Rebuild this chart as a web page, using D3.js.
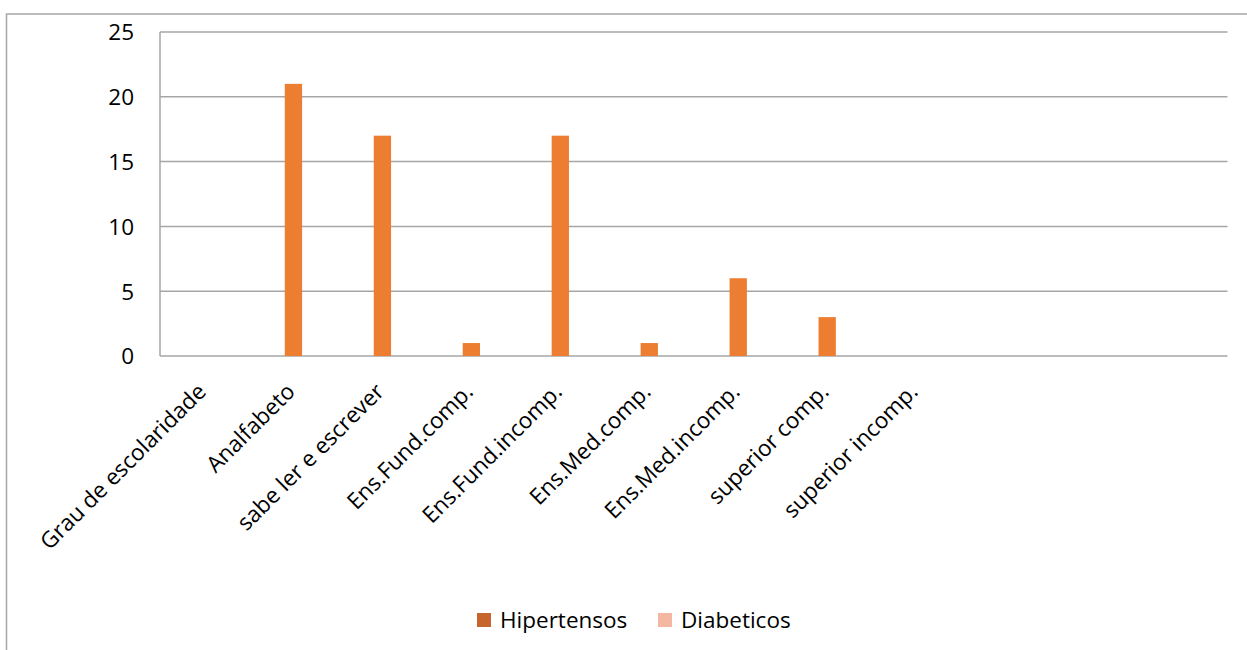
<!DOCTYPE html>
<html>
<head>
<meta charset="utf-8">
<script src="https://cdnjs.cloudflare.com/ajax/libs/d3/7.8.5/d3.min.js"></script>
<style>
  body { margin: 0; background: #fff; }
  svg { font-family: "Open Sans", sans-serif; }
</style>
</head>
<body>
<svg></svg>
<script>
//Chart Data
const categories = ["Grau de escolaridade", "Analfabeto", "sabe ler e escrever", "Ens.Fund.comp.",
                    "Ens.Fund.incomp.", "Ens.Med.comp.", "Ens.Med.incomp.", "superior comp.",
                    "superior incomp.", "", " ", "  "];
const hipertensos = [null, null, null, null, null, null, null, null, null, null, null, null];
const valores     = [null, 21, 17, 1, 17, 1, 6, 3, null, null, null, null];
const diabeticos  = [null, null, null, null, null, null, null, null, null, null, null, null];
const yTicks = [0, 5, 10, 15, 20, 25];
const legendItems = ["Hipertensos", "Diabeticos"];

drawChart();

function drawChart(){
  const w = 1247;
  const h = 650;
  const fs = 22.5;

  const series = [
    { key: "Hipertensos", values: hipertensos, color: "#c5652b" },
    { key: "valores", values: valores, color: "#ed7d31" },
    { key: "Diabeticos", values: diabeticos, color: "#f4b7a2" }
  ];

  const chart = d3.select("svg")
                  .attr("width", w)
                  .attr("height", h);

  //Outer border
  chart.append("rect")
       .attr("x", 6.5)
       .attr("y", 14)
       .attr("width", w + 20)
       .attr("height", h + 20)
       .attr("fill", "none")
       .attr("stroke", "#a6a6a6")
       .attr("stroke-width", 1.5);

  //Scale Setup
  const xScale = d3.scaleBand()
                   .domain(categories)
                   .range([160, 1227.5]);

  const innerScale = d3.scaleBand()
                       .domain(series.map(s => s.key))
                       .range([0, xScale.bandwidth()])
                       .paddingOuter(1.07);

  const yScale = d3.scaleLinear()
                   .domain([0, 25])
                   .range([356, 32]);

  //Gridlines
  chart.append("g")
       .selectAll("line")
       .data(yTicks)
       .enter()
       .append("line")
       .attr("x1", 160)
       .attr("x2", 1227.5)
       .attr("y1", d => yScale(d))
       .attr("y2", d => yScale(d))
       .attr("stroke", "#a6a6a6")
       .attr("stroke-width", 1.5);

  //Left axis line
  chart.append("line")
       .attr("x1", 160)
       .attr("x2", 160)
       .attr("y1", yScale(25))
       .attr("y2", yScale(0))
       .attr("stroke", "#a6a6a6")
       .attr("stroke-width", 1.5);

  //Bars
  series.forEach(s => {
    chart.append("g")
         .selectAll("rect")
         .data(categories.map((c, i) => ({ cat: c, value: s.values[i] })).filter(d => d.value != null))
         .enter()
         .append("rect")
         .attr("x", d => xScale(d.cat) + innerScale(s.key))
         .attr("y", d => yScale(d.value))
         .attr("width", innerScale.bandwidth())
         .attr("height", d => yScale(0) - yScale(d.value))
         .attr("fill", s.color);
  });

  //Y axis labels
  const yAxis = d3.axisLeft(yScale)
                  .tickValues(yTicks)
                  .tickSize(0)
                  .tickPadding(0);
  const yG = chart.append("g")
                  .attr("transform", "translate(134, 0)")
                  .call(yAxis);
  yG.select(".domain").remove();
  yG.selectAll("text")
    .attr("font-family", "Open Sans, sans-serif")
    .attr("font-size", fs)
    .attr("fill", "#000")
    .attr("dy", "0.35em");

  //X axis labels (rotated)
  chart.append("g")
       .selectAll("text")
       .data(categories)
       .enter()
       .append("text")
       .attr("transform", d => "translate(" + (xScale(d) + xScale.bandwidth() / 2 + 3) + ", 393) rotate(-45)")
       .attr("text-anchor", "end")
       .attr("font-size", fs)
       .attr("fill", "#000")
       .text(d => d.trim());

  //Legend
  const legendX = [477, 658];
  const legendColors = ["#c5652b", "#f4b7a2"];
  const legend = chart.append("g");
  legendItems.forEach((name, i) => {
    legend.append("rect")
          .attr("x", legendX[i])
          .attr("y", 613)
          .attr("width", 14)
          .attr("height", 14)
          .attr("fill", legendColors[i]);
    legend.append("text")
          .attr("x", legendX[i] + 23)
          .attr("y", 628)
          .attr("font-size", fs)
          .attr("fill", "#000")
          .text(name);
  });
};
</script>
</body>
</html>
